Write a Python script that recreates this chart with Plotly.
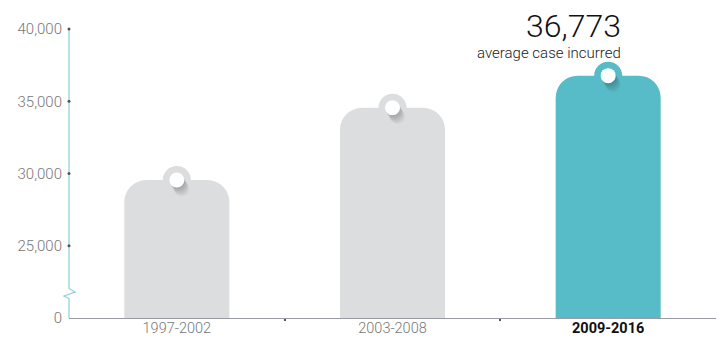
import plotly.graph_objects as go

# ---- data ----
periods = ["1997-2002", "2003-2008", "2009-2016"]
avg_case = [29550, 34550, 36773]
bar_colors = ["#dcdddf", "#dcdddf", "#58bcc8"]
y_tickvals = [20000, 25000, 30000, 35000, 40000]
y_ticktext = ["0", "25,000", "30,000", "35,000", "40,000"]
highlight_value = "36,773"
highlight_label = "average case incurred"

# ---- layout geometry ----
W, H = 726, 337
ML, MR, MT, MB = 69, 10, 29, 19
PW, PH = W - ML - MR, H - MT - MB
YMIN, YMAX = 20000, 40000
XMIN, XMAX = -0.5, 2.5
dx_px = (XMAX - XMIN) / PW
dy_px = (YMAX - YMIN) / PH

xs = list(range(len(periods)))
tick_labels = periods[:-1] + [f"<b><span style='color:#111'>{periods[-1]}</span></b>"]

fig = go.Figure()

# bars with rounded tops
fig.add_trace(go.Bar(
    x=xs, y=avg_case, width=0.487,
    marker=dict(color=bar_colors, line=dict(width=0), cornerradius=22),
    hoverinfo="skip", showlegend=False,
))
# tag tabs
fig.add_trace(go.Scatter(
    x=xs, y=avg_case, mode="markers",
    marker=dict(size=28, color=bar_colors, line=dict(width=0)),
    hoverinfo="skip", showlegend=False, cliponaxis=False,
))
# soft long shadow below the hole
for k in range(1, 10):
    fig.add_trace(go.Scatter(
        x=[x + k * 0.55 * dx_px for x in xs],
        y=[v - k * dy_px for v in avg_case],
        mode="markers",
        marker=dict(size=15, color="rgba(0,0,0,0.028)", line=dict(width=0)),
        hoverinfo="skip", showlegend=False, cliponaxis=False,
    ))
# hole
fig.add_trace(go.Scatter(
    x=xs, y=avg_case, mode="markers",
    marker=dict(size=15, color="white", line=dict(width=0)),
    hoverinfo="skip", showlegend=False, cliponaxis=False,
))

# y axis tick dots
fig.add_trace(go.Scatter(
    x=[XMIN] * (len(y_tickvals) - 1), y=y_tickvals[1:], mode="markers",
    marker=dict(size=3, color="#555", line=dict(width=0)),
    hoverinfo="skip", showlegend=False, cliponaxis=False,
))

# y axis line with break zigzag (drawn as a path)
def P(px, py):
    return (px - ML) / PW, YMIN + (MT + PH - py) * dy_px

pts = [(ML, MT), (ML, 288.5), (ML + 6, 292), (ML - 5, 296), (ML, 298.5), (ML, MT + PH)]
path = "M " + " L ".join(f"{P(a, b)[0]},{P(a, b)[1]}" for a, b in pts)
fig.add_shape(type="path", path=path, xref="paper", yref="y",
              line=dict(color="#8ccfd7", width=1.2), layer="below")

# highlight annotation
fig.add_annotation(x=xs[-1], y=avg_case[-1], text=highlight_value, showarrow=False,
                   xanchor="right", yanchor="middle", xshift=15, yshift=50,
                   font=dict(family="Roboto", size=32, color="#111", weight=300))
fig.add_annotation(x=xs[-1], y=avg_case[-1], text=highlight_label, showarrow=False,
                   xanchor="right", yanchor="middle", xshift=15, yshift=23,
                   font=dict(family="Roboto", size=15, color="#222", weight=300))

fig.update_layout(
    width=W, height=H,
    margin=dict(l=ML, r=MR, t=MT, b=MB, pad=0, autoexpand=False),
    paper_bgcolor="white", plot_bgcolor="white",
    xaxis=dict(
        range=[XMIN, XMAX], tickvals=xs, ticktext=tick_labels,
        showline=True, linecolor="#9a9aa2", linewidth=1,
        ticks="", showgrid=False, zeroline=False, automargin=False,
        ticklabelstandoff=-3,
        tickfont=dict(family="Roboto", size=14.5, color="#777", weight=300),
        minor=dict(tickvals=[x + 0.5 for x in xs[:-1]], ticks="outside",
                   ticklen=2, tickwidth=2, tickcolor="#555", showgrid=False),
        fixedrange=True,
    ),
    yaxis=dict(
        range=[YMIN, YMAX], tickvals=y_tickvals, ticktext=y_ticktext,
        showline=False, showgrid=False, zeroline=False, automargin=False,
        ticks="", ticklabelstandoff=6,
        tickfont=dict(family="Roboto", size=15, color="#777", weight=300),
        fixedrange=True,
    ),
)

fig.write_html("out.html")
